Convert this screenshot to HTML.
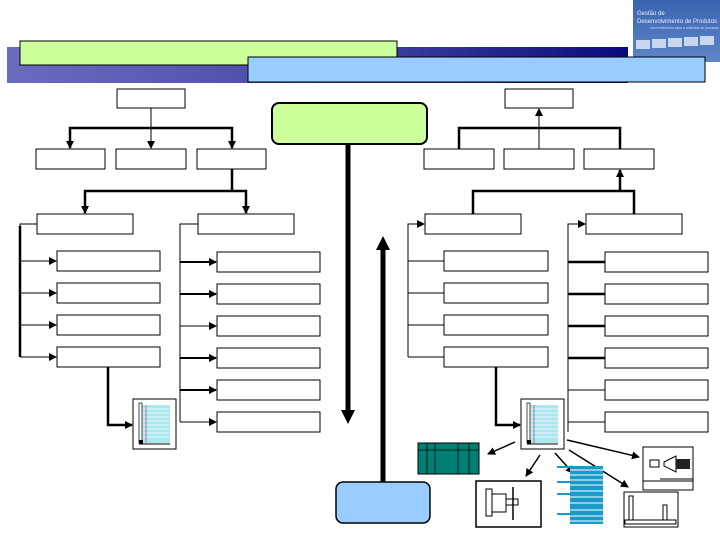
<!DOCTYPE html>
<html><head><meta charset="utf-8"><style>
html,body{margin:0;padding:0;background:#fff;width:720px;height:540px;overflow:hidden}
svg{display:block}
</style></head><body>
<svg width="720" height="540" viewBox="0 0 720 540" xmlns="http://www.w3.org/2000/svg" font-family="Liberation Sans, sans-serif">
<defs>
<linearGradient id="band" x1="0" x2="1" y1="0" y2="0">
<stop offset="0" stop-color="#6b6bc0"/><stop offset="0.5" stop-color="#4a4aa8"/><stop offset="1" stop-color="#0a0a80"/>
</linearGradient>
<linearGradient id="logo" x1="0" x2="0" y1="0" y2="1">
<stop offset="0" stop-color="#3b64b0"/><stop offset="1" stop-color="#5f86c8"/>
</linearGradient>
<marker id="a" markerWidth="8" markerHeight="8" refX="7" refY="4" orient="auto" markerUnits="userSpaceOnUse">
<path d="M0,0 L8,4 L0,8 z" fill="#000"/></marker>
</defs>
<!-- header -->
<rect x="7" y="47" width="621" height="36" fill="url(#band)"/>
<rect x="633" y="0" width="87" height="62" fill="url(#logo)"/>
<text x="637" y="15" font-size="6" fill="#e8eefc">Gestão de</text>
<text x="637" y="23" font-size="6" fill="#e8eefc">Desenvolvimento de Produtos</text>
<text x="650" y="29" font-size="3.5" fill="#d0dcf4">Uma referência para a melhoria do processo</text>
<g fill="#c8d6ee"><rect x="636" y="40" width="14" height="9"/><rect x="652" y="39" width="14" height="9"/><rect x="668" y="38" width="14" height="9"/><rect x="684" y="37" width="14" height="9"/><rect x="700" y="36" width="14" height="9"/></g>
<rect x="20" y="41" width="377" height="24" fill="#ccff99" stroke="#000" stroke-width="1"/>
<rect x="248" y="57" width="457" height="25" fill="#99ccff" stroke="#000" stroke-width="1"/>

<g fill="#fff" stroke="#000" stroke-width="1">
<rect x="117" y="89" width="68" height="19"/><rect x="505" y="89" width="68" height="19"/>
<rect x="36" y="149" width="69" height="20"/><rect x="116" y="149" width="70" height="20"/><rect x="197" y="149" width="69" height="20"/>
<rect x="424" y="149" width="70" height="20"/><rect x="504" y="149" width="70" height="20"/><rect x="584" y="149" width="70" height="20"/>
<rect x="37" y="214" width="96" height="20"/><rect x="198" y="214" width="96" height="20"/>
<rect x="425" y="214" width="96" height="20"/><rect x="586" y="214" width="96" height="20"/>
<rect x="57" y="251" width="103" height="20"/><rect x="57" y="283" width="103" height="20"/><rect x="57" y="315" width="103" height="20"/><rect x="57" y="347" width="103" height="20"/>
<rect x="217" y="252" width="103" height="20"/><rect x="217" y="284" width="103" height="20"/><rect x="217" y="316" width="103" height="20"/><rect x="217" y="348" width="103" height="20"/><rect x="217" y="380" width="103" height="20"/><rect x="217" y="412" width="103" height="20"/>
<rect x="444" y="251" width="104" height="20"/><rect x="444" y="283" width="104" height="20"/><rect x="444" y="315" width="104" height="20"/><rect x="444" y="347" width="104" height="20"/>
<rect x="605" y="252" width="103" height="20"/><rect x="605" y="284" width="103" height="20"/><rect x="605" y="316" width="103" height="20"/><rect x="605" y="348" width="103" height="20"/><rect x="605" y="380" width="103" height="20"/><rect x="605" y="412" width="103" height="20"/>
</g>
<rect x="272" y="103" width="155" height="41" rx="7" fill="#ccff99" stroke="#000" stroke-width="2"/>
<rect x="336" y="482" width="94" height="41" rx="7" fill="#99ccff" stroke="#000" stroke-width="1.5"/>

<g stroke="#000" fill="none">
<!-- left top -->
<line x1="151" y1="108" x2="151" y2="148" stroke-width="1" marker-end="url(#a)"/>
<path d="M70,148 V128 H232 V148" stroke-width="2.5"/>
<line x1="70" y1="140" x2="70" y2="148" stroke-width="2" marker-end="url(#a)"/>
<line x1="232" y1="140" x2="232" y2="148" stroke-width="2" marker-end="url(#a)"/>
<path d="M232,169 V191 M85,213 V191 H246 V213" stroke-width="2.5"/>
<line x1="85" y1="205" x2="85" y2="213" stroke-width="2" marker-end="url(#a)"/>
<line x1="246" y1="205" x2="246" y2="213" stroke-width="2" marker-end="url(#a)"/>
<!-- left brackets -->
<path d="M37,224 H20 V357" stroke-width="1"/>
<line x1="20" y1="226" x2="20" y2="357" stroke-width="2.5"/>
<line x1="20" y1="261" x2="56" y2="261" stroke-width="1" marker-end="url(#a)"/>
<line x1="20" y1="293" x2="56" y2="293" stroke-width="1" marker-end="url(#a)"/>
<line x1="20" y1="325" x2="56" y2="325" stroke-width="1" marker-end="url(#a)"/>
<line x1="20" y1="357" x2="56" y2="357" stroke-width="1" marker-end="url(#a)"/>
<path d="M198,224 H180 V422" stroke-width="1"/>
<line x1="180" y1="262" x2="216" y2="262" stroke-width="2" marker-end="url(#a)"/>
<line x1="180" y1="294" x2="216" y2="294" stroke-width="2" marker-end="url(#a)"/>
<line x1="180" y1="326" x2="216" y2="326" stroke-width="1" marker-end="url(#a)"/>
<line x1="180" y1="358" x2="216" y2="358" stroke-width="2" marker-end="url(#a)"/>
<line x1="180" y1="390" x2="216" y2="390" stroke-width="2" marker-end="url(#a)"/>
<line x1="180" y1="422" x2="216" y2="422" stroke-width="1" marker-end="url(#a)"/>
<path d="M108,367 V425 H132" stroke-width="2.5" marker-end="url(#a)"/>
<!-- right top -->
<line x1="539" y1="149" x2="539" y2="109" stroke-width="1" marker-end="url(#a)"/>
<path d="M459,149 V128 H620 V149" stroke-width="2.5"/>
<path d="M473,214 V191 H634 V214" stroke-width="2.5"/>
<line x1="620" y1="191" x2="620" y2="170" stroke-width="2.5" marker-end="url(#a)"/>
<!-- right brackets -->
<path d="M408,357 V224 H424" stroke-width="1" marker-end="url(#a)"/>
<line x1="408" y1="261" x2="444" y2="261" stroke-width="1"/>
<line x1="408" y1="293" x2="444" y2="293" stroke-width="1"/>
<line x1="408" y1="325" x2="444" y2="325" stroke-width="1"/>
<line x1="408" y1="357" x2="444" y2="357" stroke-width="1"/>
<path d="M568,432 V224 H585" stroke-width="1" marker-end="url(#a)"/>
<line x1="568" y1="262" x2="605" y2="262" stroke-width="2.5"/>
<line x1="568" y1="294" x2="605" y2="294" stroke-width="2.5"/>
<line x1="568" y1="326" x2="605" y2="326" stroke-width="2.5"/>
<line x1="568" y1="358" x2="605" y2="358" stroke-width="2.5"/>
<line x1="568" y1="390" x2="605" y2="390" stroke-width="1"/>
<line x1="568" y1="422" x2="605" y2="422" stroke-width="1"/>
<path d="M496,367 V425 H520" stroke-width="2.5" marker-end="url(#a)"/>
<!-- center arrows -->
<line x1="348" y1="144" x2="348" y2="412" stroke-width="5"/>
<path d="M341,410 L348,424 L355,410 z" fill="#000" stroke="none"/>
<line x1="383" y1="482" x2="383" y2="248" stroke-width="5"/>
<path d="M376,250 L383,236 L390,250 z" fill="#000" stroke="none"/>
<!-- spray arrows -->
<line x1="515" y1="442" x2="488" y2="454" stroke-width="1.5" marker-end="url(#a)"/>
<line x1="540" y1="455" x2="526" y2="476" stroke-width="1.5" marker-end="url(#a)"/>
<line x1="555" y1="453" x2="573" y2="473" stroke-width="1.5" marker-end="url(#a)"/>
<line x1="569" y1="450" x2="628" y2="487" stroke-width="1.5" marker-end="url(#a)"/>
<line x1="567" y1="440" x2="639" y2="457" stroke-width="1.5" marker-end="url(#a)"/>
</g>

<!-- notebooks -->
<g id="nb">
<rect x="133" y="399" width="43" height="50" fill="#fff" stroke="#000"/>
<rect x="142" y="405" width="28" height="38" fill="#a8e8ee"/>
<g stroke="#fff" stroke-width="0.8"><line x1="142" y1="409" x2="170" y2="409"/><line x1="142" y1="413" x2="170" y2="413"/><line x1="142" y1="417" x2="170" y2="417"/><line x1="142" y1="421" x2="170" y2="421"/><line x1="142" y1="425" x2="170" y2="425"/><line x1="142" y1="429" x2="170" y2="429"/><line x1="142" y1="433" x2="170" y2="433"/><line x1="142" y1="437" x2="170" y2="437"/></g>
<line x1="146" y1="405" x2="146" y2="443" stroke="#a03050" stroke-width="0.6"/>
<rect x="139" y="403" width="3" height="40" fill="#fff" stroke="#000" stroke-width="0.7"/>
<rect x="139" y="440" width="4" height="4" fill="#000"/>
<line x1="139" y1="444" x2="170" y2="444" stroke="#000"/>
</g>
<use href="#nb" x="388" y="0"/>

<!-- teal table -->
<rect x="418" y="443" width="61" height="31" fill="#007f74" stroke="#000"/>
<g stroke="#000" stroke-width="0.8"><line x1="418" y1="450" x2="479" y2="450"/><line x1="427" y1="443" x2="427" y2="474"/><line x1="435" y1="443" x2="435" y2="474"/><line x1="458" y1="443" x2="458" y2="474"/><line x1="469" y1="443" x2="469" y2="474"/></g>
<!-- machine box -->
<rect x="476" y="481" width="65" height="46" fill="#fff" stroke="#000" stroke-width="1.5"/>
<rect x="486" y="489" width="6" height="27" fill="#fff" stroke="#000"/>
<rect x="492" y="494" width="14" height="18" fill="#fff" stroke="#000"/>
<rect x="506" y="499" width="12" height="6" fill="#fff" stroke="#000"/>
<line x1="513" y1="487" x2="513" y2="520" stroke="#000" stroke-width="1.5"/>
<!-- striped -->
<g fill="#1a9ac8">
<rect x="570" y="466" width="33" height="58"/>
</g>
<g stroke="#fff" stroke-width="1"><line x1="570" y1="470" x2="603" y2="470"/><line x1="570" y1="475" x2="603" y2="475"/><line x1="570" y1="480" x2="603" y2="480"/><line x1="570" y1="485" x2="603" y2="485"/><line x1="570" y1="491" x2="603" y2="491"/><line x1="570" y1="497" x2="603" y2="497"/><line x1="570" y1="503" x2="603" y2="503"/><line x1="570" y1="510" x2="603" y2="510"/><line x1="570" y1="516" x2="603" y2="516"/><line x1="570" y1="521" x2="603" y2="521"/></g>
<g fill="#1a9ac8"><rect x="557" y="466" width="13" height="2"/><rect x="557" y="481" width="13" height="2"/><rect x="557" y="493" width="13" height="2"/><rect x="557" y="513" width="13" height="2"/></g>
<!-- right machine -->
<rect x="643" y="447" width="50" height="43" fill="#fff" stroke="#000"/>
<rect x="650" y="460" width="9" height="7" fill="#fff" stroke="#000"/>
<path d="M664,462 L676,456 L676,472 L664,466 z" fill="#fff" stroke="#000"/>
<rect x="676" y="459" width="14" height="10" fill="#222"/>
<line x1="643" y1="481" x2="693" y2="481" stroke="#000"/>
<line x1="660" y1="479" x2="693" y2="479" stroke="#000"/>
<!-- bottom right -->
<rect x="624" y="492" width="54" height="35" fill="#fff" stroke="#000"/>
<rect x="629" y="496" width="4" height="24" fill="#fff" stroke="#000"/>
<rect x="663" y="505" width="4" height="15" fill="#fff" stroke="#000"/>
<rect x="625" y="520" width="51" height="4" fill="#fff" stroke="#000"/>
</svg>
</body></html>
